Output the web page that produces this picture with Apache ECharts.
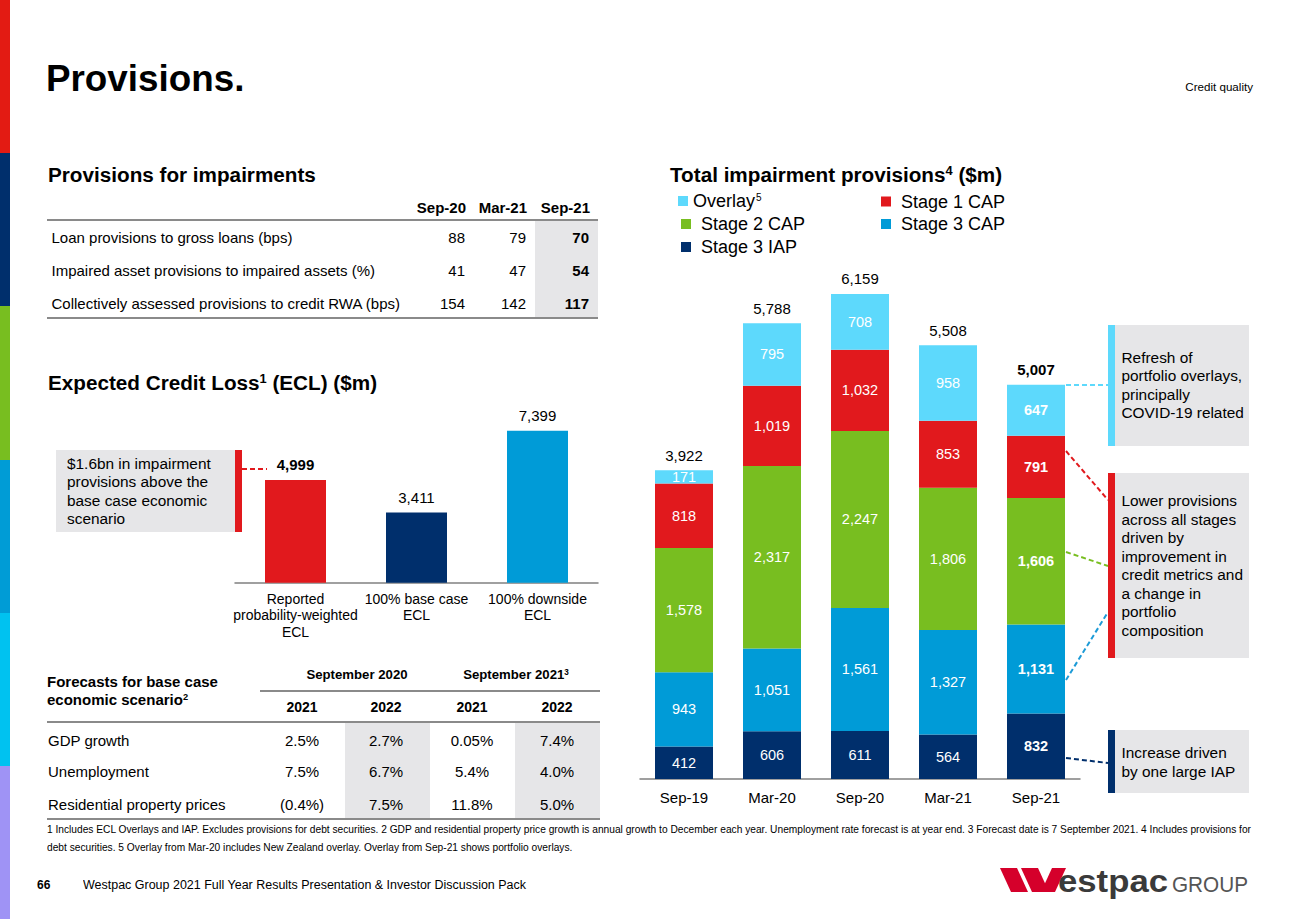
<!DOCTYPE html>
<html><head><meta charset="utf-8">
<script src="https://cdn.jsdelivr.net/npm/echarts@6/dist/echarts.min.js"></script>
<style>
html,body{margin:0;padding:0;background:#fff;}
body{width:1300px;height:919px;position:relative;overflow:hidden;font-family:'Liberation Sans',Arial,sans-serif;color:#000;}
#chart{position:absolute;left:0;top:0;width:1300px;height:919px;}
#layer{position:absolute;left:0;top:0;width:1300px;height:919px;pointer-events:none;}
.a{position:absolute;white-space:nowrap;}
sup{font-size:0.62em;vertical-align:0.55em;line-height:0;}
</style></head><body>
<div id="chart"></div>
<div id="layer"></div>
<script>
// ---------------- data ----------------
const ECL_CATEGORIES = ['Reported\nprobability-weighted\nECL', '100% base case\nECL', '100% downside\nECL'];
const ECL_VALUES = [4999, 3411, 7399];

const PERIODS = ['Sep-19', 'Mar-20', 'Sep-20', 'Mar-21', 'Sep-21'];
const STAGE3_IAP = [412, 606, 611, 564, 832];
const STAGE3_CAP = [943, 1051, 1561, 1327, 1131];
const STAGE2_CAP = [1578, 2317, 2247, 1806, 1606];
const STAGE1_CAP = [818, 1019, 1032, 853, 791];
const OVERLAY = [171, 795, 708, 958, 647];
const TOTALS = [3922, 5788, 6159, 5508, 5007];

const PFI_COLS = ['Sep-20', 'Mar-21', 'Sep-21'];
const PFI_ROWS = ['Loan provisions to gross loans (bps)', 'Impaired asset provisions to impaired assets (%)', 'Collectively assessed provisions to credit RWA (bps)'];
const PFI_VALUES = [[88, 79, 70], [41, 47, 54], [154, 142, 117]];

const FC_GROUPS = ['September 2020', 'September 2021<sup>3</sup>'];
const FC_YEARS = ['2021', '2022', '2021', '2022'];
const FC_ROWS = ['GDP growth', 'Unemployment', 'Residential property prices'];
const FC_VALUES = [['2.5%', '2.7%', '0.05%', '7.4%'], ['7.5%', '6.7%', '5.4%', '4.0%'], ['(0.4%)', '7.5%', '11.8%', '5.0%']];

// ---------------- style ----------------
const FONT = "'Liberation Sans', Arial, sans-serif";
const C = {overlay: '#5DD9FC', s1: '#E1191D', s2: '#78BE20', s3cap: '#009BD7', s3iap: '#002F6C'};
const GRAYBOX = '#E6E6E8';
const LINEGRAY = '#8A8A8A';
const fmt = v => Number(v).toLocaleString('en-US');

// ---------------- html helpers ----------------
const layer = document.getElementById('layer');
function txt(html, x, cy, fs, o) {
  o = o || {};
  const d = document.createElement('div');
  d.className = 'a';
  d.innerHTML = html;
  const lh = o.lh || fs;
  d.style.fontSize = fs + 'px';
  d.style.lineHeight = lh + 'px';
  d.style.top = (cy - lh / 2) + 'px';
  if (o.align === 'right') { d.style.right = (1300 - x) + 'px'; d.style.textAlign = 'right'; }
  else if (o.align === 'center') { d.style.left = (x - 150) + 'px'; d.style.width = '300px'; d.style.textAlign = 'center'; }
  else d.style.left = x + 'px';
  if (o.bold) d.style.fontWeight = 'bold';
  d.style.color = o.color || '#000';
  layer.appendChild(d);
  return d;
}
function rect(x, y, w, h, color) {
  const d = document.createElement('div');
  d.className = 'a';
  Object.assign(d.style, {left: x + 'px', top: y + 'px', width: w + 'px', height: h + 'px', background: color});
  layer.appendChild(d);
  return d;
}

// left colour strip
['#E31B13', '#002F6C', '#78BE20', '#009CD6', '#00C2F0', '#9F93F5'].forEach((c, i) => rect(0, i * 919 / 6, 9.5, 919 / 6 + 0.5, c));

// titles
txt('Provisions.', 46, 79, 36.8, {bold: true});
txt('Credit quality', 1253, 87, 11.6, {align: 'right'});
txt('Provisions for impairments', 48, 175, 20.7, {bold: true});
txt('Expected Credit Loss<sup>1</sup> (ECL) ($m)', 48, 383, 20.7, {bold: true});
txt('Total impairment provisions<sup>4</sup> ($m)', 670, 175, 20.7, {bold: true});

// ---- provisions for impairments table ----
const pfiRight = [465, 526, 589];
rect(535, 221, 63, 97, GRAYBOX);
rect(47, 219, 551, 2, LINEGRAY);
rect(47, 317, 551, 2, LINEGRAY);
PFI_COLS.forEach((c, i) => txt(c, pfiRight[i] + 1, 207, 15, {bold: true, align: 'right'}));
const pfiY = [237, 270, 303];
PFI_ROWS.forEach((r, i) => {
  txt(r, 51.5, pfiY[i], 15);
  PFI_VALUES[i].forEach((v, j) => txt(String(v), pfiRight[j], pfiY[i], 15, {align: 'right', bold: j === 2}));
});

// ---- ECL annotation ----
rect(56, 450, 179, 82, GRAYBOX);
rect(235, 450, 7, 82, C.s1);
txt('$1.6bn in impairment<br>provisions above the<br>base case economic<br>scenario', 67, 464, 15.4, {lh: 18.5});

// ---- forecasts table ----
const fcX = [302, 386, 472, 557];
rect(345, 723, 85, 95, GRAYBOX);
rect(515, 723, 85, 95, GRAYBOX);
rect(260, 690, 340, 2, LINEGRAY);
rect(47, 721, 553, 2, LINEGRAY);
rect(47, 818, 553, 2, LINEGRAY);
txt('Forecasts for base case<br>economic scenario<sup>2</sup>', 47, 682, 15, {bold: true, lh: 18});
txt(FC_GROUPS[0], 357, 675, 13.2, {bold: true, align: 'center'});
txt(FC_GROUPS[1], 516, 675, 13.2, {bold: true, align: 'center'});
FC_YEARS.forEach((y, i) => txt(y, fcX[i], 707, 14, {bold: true, align: 'center'}));
const fcY = [740, 771, 804];
FC_ROWS.forEach((r, i) => {
  txt(r, 48, fcY[i], 15);
  FC_VALUES[i].forEach((v, j) => txt(v, fcX[j], fcY[i], 15, {align: 'center'}));
});

// ---- right annotations ----
rect(1114, 325, 135, 121, GRAYBOX); rect(1108, 325, 6.5, 121, C.overlay);
rect(1114, 473, 135, 185, GRAYBOX); rect(1108, 473, 6.5, 185, C.s1);
rect(1114, 730, 135, 63, GRAYBOX); rect(1108, 730, 6.5, 63, C.s3iap);
txt('Refresh of<br>portfolio overlays,<br>principally<br>COVID-19 related', 1121.5, 358, 15.4, {lh: 18.6});
txt('Lower provisions<br>across all stages<br>driven by<br>improvement in<br>credit metrics and<br>a change in<br>portfolio<br>composition', 1121.5, 501.5, 15.4, {lh: 18.5});
txt('Increase driven<br>by one large IAP', 1121.5, 753.5, 15.4, {lh: 18.6});

// ---- footnotes / footer ----
const fn1 = txt('1 Includes ECL Overlays and IAP. Excludes provisions for debt securities. 2 GDP and residential property price growth is annual growth to December each year. Unemployment rate forecast is at year end. 3 Forecast date is 7 September 2021. 4 Includes provisions for', 47, 829, 10.6);
const fn2 = txt('debt securities. 5 Overlay from Mar-20 includes New Zealand overlay. Overlay from Sep-21 shows portfolio overlays.', 47, 847, 10.6);
txt('66', 37, 885, 12, {bold: true});
const ft = txt('Westpac Group 2021 Full Year Results Presentation &amp; Investor Discussion Pack', 83, 885, 12.5);
function scaleTo(el, w) {
  const cw = el.getBoundingClientRect().width;
  el.style.transformOrigin = '0 50%';
  el.style.transform = 'scaleX(' + (w / cw) + ')';
}
scaleTo(fn2, 1204 * fn2.getBoundingClientRect().width / fn1.getBoundingClientRect().width);
scaleTo(fn1, 1204);
scaleTo(ft, 443);

// ---- SVG: dashed connectors + logo ----
const svgNS = 'http://www.w3.org/2000/svg';
const svg = document.createElementNS(svgNS, 'svg');
svg.setAttribute('width', 1300); svg.setAttribute('height', 919);
svg.style.position = 'absolute'; svg.style.left = 0; svg.style.top = 0;
layer.appendChild(svg);
function dline(x1, y1, x2, y2, c) {
  const l = document.createElementNS(svgNS, 'line');
  [['x1', x1], ['y1', y1], ['x2', x2], ['y2', y2], ['stroke', c], ['stroke-width', 2], ['stroke-dasharray', '5,3']].forEach(a => l.setAttribute(a[0], a[1]));
  svg.appendChild(l);
}
dline(242, 469, 267, 469, C.s1);
dline(1066, 385, 1108, 385, C.overlay);
dline(1066, 451, 1108, 500, C.s1);
dline(1066, 552, 1108, 566, C.s2);
dline(1066, 680, 1108, 612, '#1D9BD7');
dline(1066, 758, 1108, 763, C.s3iap);
function poly(pts, c) {
  const p = document.createElementNS(svgNS, 'polygon');
  p.setAttribute('points', pts); p.setAttribute('fill', c); svg.appendChild(p);
}
poly('1000,868 1017,868 1028,892 1011,892', '#D5002B');
poly('1021,868 1038,868 1049,892 1032,892', '#D5002B');
poly('1041,892 1055,892 1066,868 1052,868', '#D5002B');
function stext(s, x, y, fs, weight, color, len) {
  const t = document.createElementNS(svgNS, 'text');
  t.textContent = s;
  [['x', x], ['y', y], ['font-size', fs], ['font-weight', weight], ['fill', color], ['font-family', FONT], ['textLength', len], ['lengthAdjust', 'spacingAndGlyphs']].forEach(a => t.setAttribute(a[0], a[1]));
  svg.appendChild(t);
}
stext('estpac', 1058, 892, 32, 'bold', '#3A3A3A', 110);
stext('GROUP', 1172, 892, 22.4, 'normal', '#555555', 76);

// ---------------- chart ----------------
const chart = echarts.init(document.getElementById('chart'), null, {renderer: 'svg'});
const boldLast = arr => arr.map((v, i) => i === PERIODS.length - 1 ? {value: v, label: {fontWeight: 'bold'}} : v);
function stackSeries(name, data, color) {
  return {
    name, type: 'bar', stack: 'total', xAxisIndex: 1, yAxisIndex: 1, barWidth: 58,
    itemStyle: {color}, data: boldLast(data),
    label: {show: true, position: 'inside', color: '#fff', fontSize: 14.5, fontFamily: FONT, formatter: p => fmt(p.value)}
  };
}
const legendText = {color: '#000', fontSize: 18, lineHeight: 18, fontFamily: FONT,
  rich: {sup: {fontSize: 10, verticalAlign: 'top', lineHeight: 10, padding: [0, 0, 0, 1]}}};
const option = {
  animation: false,
  textStyle: {fontFamily: FONT},
  grid: [
    {left: 235, top: 418.3, width: 363, height: 164.4},
    {left: 640, top: 227.75, width: 440, height: 551.25}
  ],
  xAxis: [
    {gridIndex: 0, type: 'category', data: ECL_CATEGORIES, axisTick: {show: false},
      axisLine: {lineStyle: {color: '#808080', width: 1.5}},
      axisLabel: {color: '#000', fontSize: 14, lineHeight: 16.5, margin: 8, interval: 0, fontFamily: FONT}},
    {gridIndex: 1, type: 'category', data: PERIODS, axisTick: {show: false},
      axisLine: {lineStyle: {color: '#808080', width: 1.5}},
      axisLabel: {color: '#000', fontSize: 15, margin: 11, fontFamily: FONT}}
  ],
  yAxis: [
    {gridIndex: 0, type: 'value', min: 0, max: 8000, show: false},
    {gridIndex: 1, type: 'value', min: 0, max: 7000, show: false}
  ],
  legend: [
    {data: ['Overlay'], left: 678, top: 192, orient: 'vertical', padding: 0, icon: 'rect', itemWidth: 10, itemHeight: 10,
      selectedMode: false, textStyle: legendText, formatter: n => n + '{sup|5}'},
    {data: ['Stage 2 CAP', 'Stage 3 IAP'], left: 681, top: 215, orient: 'vertical', padding: 0, itemGap: 5, icon: 'rect',
      itemWidth: 10, itemHeight: 10, selectedMode: false, textStyle: legendText, formatter: n => ' ' + n},
    {data: ['Stage 1 CAP', 'Stage 3 CAP'], left: 881, top: 192.5, orient: 'vertical', padding: 0, itemGap: 4.5, icon: 'rect',
      itemWidth: 10, itemHeight: 10, selectedMode: false, textStyle: legendText, formatter: n => ' ' + n}
  ],
  series: [
    {name: 'ECL', type: 'bar', xAxisIndex: 0, yAxisIndex: 0, barWidth: 61,
      data: ECL_VALUES.map((v, i) => ({value: v, itemStyle: {color: [C.s1, C.s3iap, C.s3cap][i]},
        label: {fontWeight: i === 0 ? 'bold' : 'normal'}})),
      label: {show: true, position: 'top', distance: 8, fontSize: 15, color: '#000', fontFamily: FONT, formatter: p => fmt(p.value)}},
    stackSeries('Stage 3 IAP', STAGE3_IAP, C.s3iap),
    stackSeries('Stage 3 CAP', STAGE3_CAP, C.s3cap),
    stackSeries('Stage 2 CAP', STAGE2_CAP, C.s2),
    stackSeries('Stage 1 CAP', STAGE1_CAP, C.s1),
    stackSeries('Overlay', OVERLAY, C.overlay),
    {name: 'Total', type: 'scatter', xAxisIndex: 1, yAxisIndex: 1, symbolSize: 1, itemStyle: {opacity: 0},
      data: boldLast(TOTALS), silent: true,
      label: {show: true, position: 'top', distance: 7, fontSize: 15, color: '#000', opacity: 1, fontFamily: FONT, formatter: p => fmt(p.value)}}
  ]
};
chart.setOption(option);
</script>
</body></html>
